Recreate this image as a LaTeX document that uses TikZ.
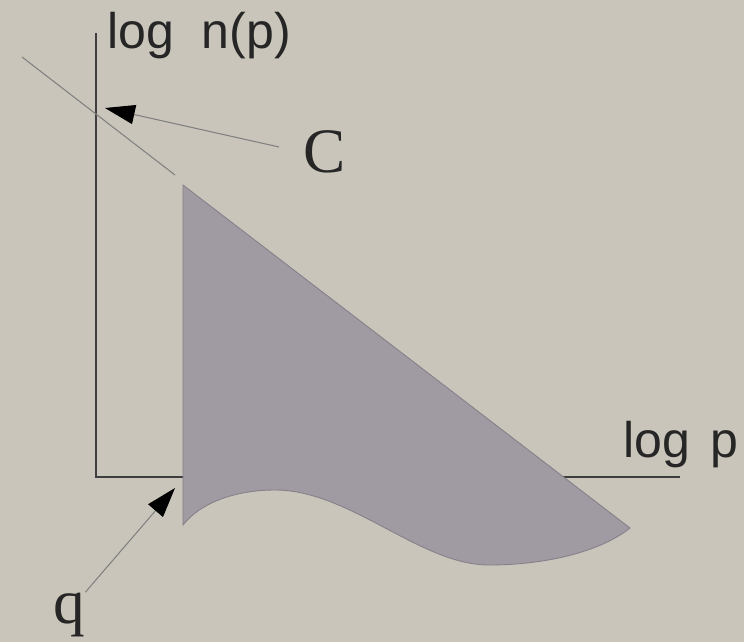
\documentclass[tikz,border=0pt]{standalone}
\usepackage{fontspec}
\setmainfont{Liberation Serif}
\setsansfont{Liberation Sans}
\usepackage{tikz}
\usetikzlibrary{arrows.meta,positioning,calc}
\definecolor{paper}{HTML}{C9C5BA}
\definecolor{region}{HTML}{A09BA3}
\definecolor{rim}{HTML}{858089}
\definecolor{axisgray}{HTML}{3E3E3E}
\definecolor{thin}{HTML}{808080}

\begin{document}
\begin{tikzpicture}[x=0.02cm, y=-0.02cm,
  axisline/.style={draw=axisgray, line width=1pt},
  guide/.style={draw=thin, line width=0.6pt},
  pointer/.style={draw=thin, line width=0.6pt, -{Triangle[length=17pt,width=11pt,color=black]}},
  axislabel/.style={font=\sffamily\fontsize{28.5}{30}\selectfont, inner sep=0pt, text=black!85},
  letter/.style={font=\fontsize{36}{38}\selectfont, inner sep=0pt, text=black!85}]
  \fill[paper] (0,0) rectangle (744,642);
  \useasboundingbox (0,0) rectangle (744,642);
  % axes
  \draw[axisline] (96,33) -- (96,477) -- (680,477);
  % extension of the upper edge
  \draw[guide] (22,57) -- (175,175);
  % the region
  \filldraw[fill=region, draw=rim, line width=0.5pt]
    (183,185) -- (630,528)
    .. controls (600,552) and (545,565) .. (489,565)
    .. controls (420,565) and (350,490) .. (275,490)
    .. controls (235,490) and (200,503) .. (183,525) -- cycle;
  % labels
  \node[axislabel, anchor=base west] (ylabel) at (107,49) {log\ \ n(p)};
  \node[axislabel, anchor=base west] (xlabel) at (623,457) {log\hspace{0.4em}p};
  \node[letter, anchor=base west] (clabel) at (303,173) {C};
  \node[letter, anchor=base west] (qlabel) at (53,623) {q};
  \coordinate (ctip) at (105,108);
  \coordinate (qtip) at (175,488);
  \draw[pointer, shorten <=14pt] (clabel.west) -- (ctip);
  \draw[pointer] (qlabel.north east) -- (qtip);
\end{tikzpicture}
\end{document}
